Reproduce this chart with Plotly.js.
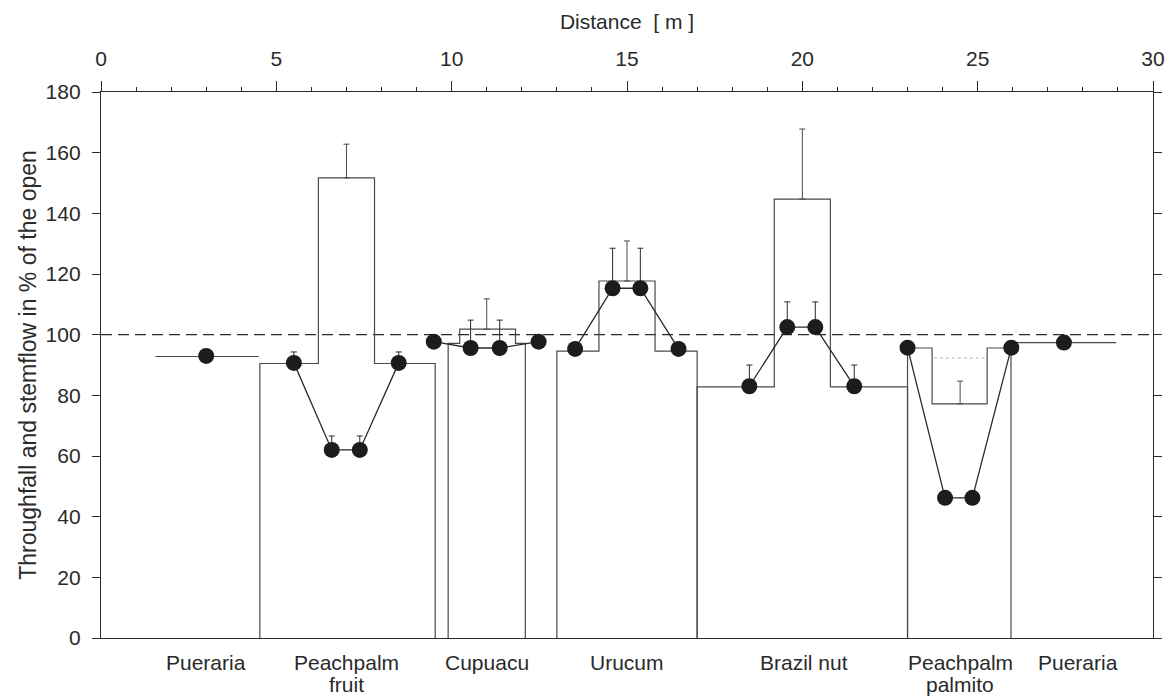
<!DOCTYPE html>
<html>
<head>
<meta charset="utf-8">
<script src="https://cdn.plot.ly/plotly-3.0.1.min.js"></script>
<style>html,body{margin:0;padding:0;background:#fff;}#chart{width:1170px;height:697px;}</style>
</head>
<body>
<div id="chart"></div>
<script>
// ---- data ----
const treeNames  = ['Pueraria', 'Peachpalm<br>fruit', 'Cupuacu', 'Urucum', 'Brazil nut', 'Peachpalm<br>palmito', 'Pueraria'];
const treeLabelX = [3.0, 7.0, 11.0, 15.0, 20.05, 24.5, 27.85];

// throughfall step profile per tree (segment edges in m, level per segment in %)
const tfEdges  = [[1.55, 4.5], [4.53, 6.2, 7.8, 9.53], [9.9, 10.23, 11.82, 12.1], [13.0, 14.2, 15.8, 17.0],
                  [17.0, 19.2, 20.8, 23.0], [23.0, 23.7, 25.27, 25.95], [25.95, 28.95]];
const tfLevels = [[92.8], [90.5, 151.7, 90.5], [97.1, 101.8, 97.1], [94.6, 117.7, 94.6],
                  [82.8, 144.7, 82.8], [95.6, 77.2, 95.6], [97.4]];
const tfClosed = [false, true, true, true, true, true, false];

// throughfall error bars (centre segment)
const tfErrX    = [7.0, 11.0, 15.0, 20.0, 24.5];
const tfErrBase = [151.7, 101.8, 117.7, 144.7, 77.2];
const tfErrPlus = [11.1, 10.0, 13.2, 23.1, 7.5];

// dotted reference under palmito
const palmitoDotX = [23.75, 25.2];
const palmitoDotY = [92.3, 92.3];

// stemflow / measurement points
const sfX   = [[3.0], [5.5, 6.58, 7.38, 8.49], [9.49, 10.54, 11.37, 12.48], [13.52, 14.59, 15.38, 16.47],
               [18.49, 19.57, 20.37, 21.48], [23.0, 24.07, 24.85, 25.96], [27.46]];
const sfY   = [[93.0], [90.7, 62.0, 62.0, 90.7], [97.7, 95.6, 95.6, 97.7], [95.3, 115.3, 115.3, 95.3],
               [83.0, 102.5, 102.5, 83.0], [95.7, 46.2, 46.2, 95.7], [97.4]];
const sfErr = [[0], [3.6, 4.6, 4.6, 3.6], [0, 9.2, 9.2, 0], [0, 13.2, 13.2, 0],
               [7.0, 8.3, 8.3, 7.0], [0, 0, 0, 0], [0]];

const openLevel = 100;
const xTicks = [0, 5, 10, 15, 20, 25, 30];
const yTicks = [0, 20, 40, 60, 80, 100, 120, 140, 160, 180];

// ---- build traces ----
const ink = '#2a2a2a';
const stepColor = '#4a4a4a';
const fontFam = 'Liberation Sans, Arial, sans-serif';
const traces = [];

function stepPath(edges, levels, closed) {
  const xs = [], ys = [];
  if (closed) { xs.push(edges[0]); ys.push(0); }
  for (let i = 0; i < levels.length; i++) {
    xs.push(edges[i]); ys.push(levels[i]);
    xs.push(edges[i + 1]); ys.push(levels[i]);
  }
  if (closed) { xs.push(edges[edges.length - 1]); ys.push(0); }
  return {xs, ys};
}

tfEdges.forEach((e, i) => {
  const p = stepPath(e, tfLevels[i], tfClosed[i]);
  traces.push({x: p.xs, y: p.ys, type: 'scatter', mode: 'lines',
    line: {color: stepColor, width: 1.2, shape: 'linear'}, hoverinfo: 'skip', showlegend: false});
});

traces.push({x: palmitoDotX, y: palmitoDotY, type: 'scatter', mode: 'lines',
  line: {color: '#b0b0b0', width: 1, dash: 'dot'}, hoverinfo: 'skip', showlegend: false});

traces.push({x: tfErrX, y: tfErrBase, type: 'scatter', mode: 'markers',
  marker: {size: 1, color: 'rgba(0,0,0,0)'},
  error_y: {type: 'data', symmetric: false, array: tfErrPlus, arrayminus: tfErrPlus.map(() => 0),
            color: stepColor, thickness: 1, width: 3},
  hoverinfo: 'skip', showlegend: false});

sfX.forEach((xs, i) => {
  traces.push({x: xs, y: sfY[i], type: 'scatter', mode: 'lines+markers',
    line: {color: ink, width: 1.3},
    marker: {size: 16, color: '#1c1c1c'},
    error_y: {type: 'data', symmetric: false, array: sfErr[i], arrayminus: sfErr[i].map(() => 0),
              color: ink, thickness: 1, width: 3},
    hoverinfo: 'skip', showlegend: false});
});

// tree labels: each line of a name as its own annotation (reference line spacing is tight)
const lineY = [-0.044, -0.086];
const annotations = [];
treeNames.forEach((t, i) => {
  t.split('<br>').forEach((part, k) => {
    annotations.push({
      x: treeLabelX[i], xref: 'x', y: lineY[k], yref: 'paper', yanchor: 'middle', xanchor: 'center',
      text: part, showarrow: false, font: {family: fontFam, size: 21, color: ink}
    });
  });
});

const layout = {
  width: 1170, height: 697,
  margin: {l: 101, r: 17, t: 92, b: 59, pad: 0},
  paper_bgcolor: '#ffffff', plot_bgcolor: '#ffffff',
  font: {family: fontFam, size: 21, color: ink},
  showlegend: false,
  xaxis: {
    range: [0, 30], side: 'top', tickvals: xTicks, ticks: 'outside', ticklen: 10, tickwidth: 1,
    tickcolor: ink, showline: true, linecolor: ink, linewidth: 1.2, mirror: true,
    showgrid: false, zeroline: false, fixedrange: true, ticklabelstandoff: 6,
    minor: {dtick: 1, ticks: 'outside', ticklen: 4, tickcolor: ink, showgrid: false},
    tickfont: {size: 21, color: ink},
    title: {text: 'Distance&nbsp; [ m ]', font: {size: 21, color: ink}, standoff: 12}
  },
  yaxis: {
    range: [0, 180], tickvals: yTicks, ticks: 'outside', ticklen: 8, tickwidth: 1,
    tickcolor: ink, showline: true, linecolor: ink, linewidth: 1.2, mirror: 'ticks',
    showgrid: false, zeroline: false, fixedrange: true, ticklabelstandoff: 7,
    tickfont: {size: 21, color: ink},
    title: {text: 'Throughfall and stemflow in % of the open', font: {size: 23, color: ink}, standoff: 2}
  },
  shapes: [{type: 'line', xref: 'x', yref: 'y', x0: 0, x1: 30, y0: openLevel, y1: openLevel,
            line: {color: ink, width: 1.2, dash: '11px,6px'}, layer: 'below'}],
  annotations: annotations
};

Plotly.newPlot('chart', traces, layout, {displayModeBar: false, staticPlot: true});
</script>
</body>
</html>
